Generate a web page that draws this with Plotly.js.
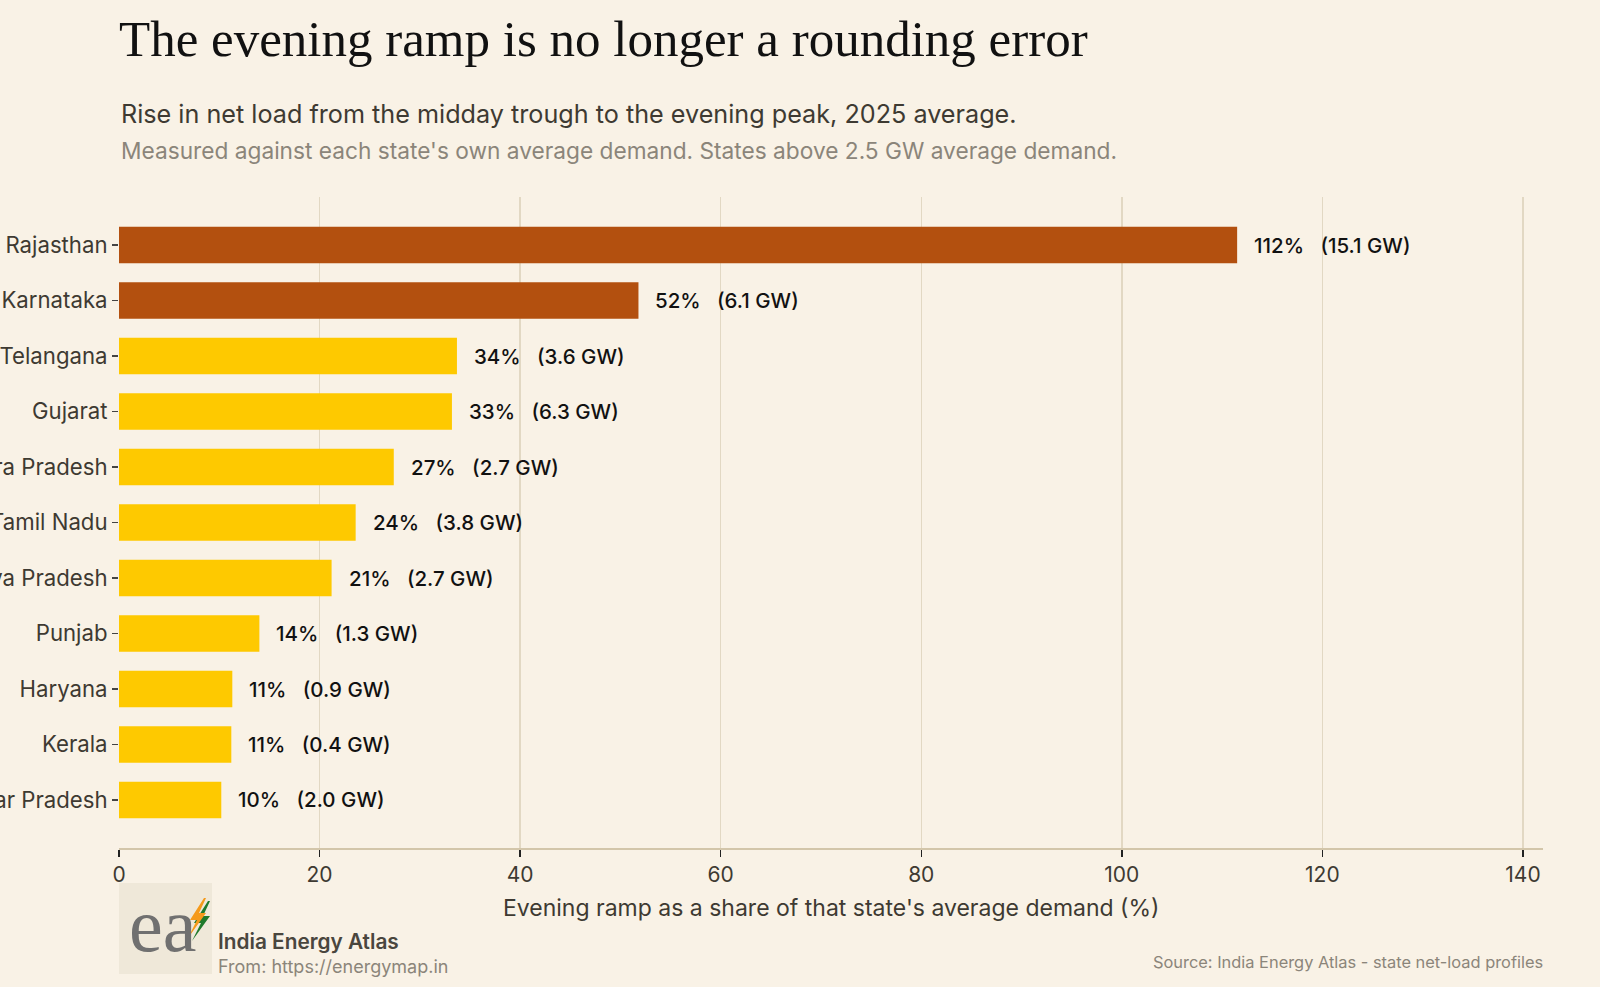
<!DOCTYPE html>
<html>
<head>
<meta charset="utf-8">
<script src="https://cdn.plot.ly/plotly-3.0.1.min.js"></script>
<style>
  html, body { margin: 0; padding: 0; background: #f9f2e6; }
  #chart { width: 1600px; height: 987px; }
</style>
</head>
<body>
<div id="chart"></div>
<script>
// state order, top to bottom
var states = ['Rajasthan', 'Karnataka', 'Telangana', 'Gujarat', 'Andhra Pradesh', 'Tamil Nadu',
              'Madhya Pradesh', 'Punjab', 'Haryana', 'Kerala', 'Uttar Pradesh'];
// evening ramp as % of state's average demand
var rampPct = [111.5, 51.8, 33.7, 33.2, 27.4, 23.6, 21.2, 14.0, 11.3, 11.2, 10.2];
// evening ramp in GW
var rampGW = [15.1, 6.1, 3.6, 6.3, 2.7, 3.8, 2.7, 1.3, 0.9, 0.4, 2.0];
var xTicks = [0, 20, 40, 60, 80, 100, 120, 140];

var DARK = '#b3500f', YELLOW = '#fec900';
var INK = '#3e3a32', GREY = '#8b857a';

// plot area in pixels: x 119..1543, y 197..848
function px(x) { return (x - 119) / 1424; }
function py(y) { return (848 - y) / 651; }

var barColors = rampPct.map(function (v) { return v >= 50 ? DARK : YELLOW; });

var trace = {
  type: 'bar',
  orientation: 'h',
  y: states,
  x: rampPct,
  marker: { color: barColors, line: { width: 0 } },
  hoverinfo: 'none'
};

var gap = '\u00a0\u00a0\u00a0';
var annotations = states.map(function (s, i) {
  return {
    x: rampPct[i], y: s, xref: 'x', yref: 'y',
    text: Math.round(rampPct[i]) + '%' + gap + '(' + rampGW[i].toFixed(1) + ' GW)',
    showarrow: false, xanchor: 'left', xshift: 15,
    font: { family: 'Inter', size: 20.5, color: '#111111', weight: 500 }
  };
});

annotations.push(
  { xref: 'paper', yref: 'paper', x: px(119), y: py(114), xanchor: 'left', yanchor: 'middle', showarrow: false,
    text: 'Rise in net load from the midday trough to the evening peak, 2025 average.',
    font: { family: 'Inter', size: 25.2, color: INK } },
  { xref: 'paper', yref: 'paper', x: px(119), y: py(151), xanchor: 'left', yanchor: 'middle', showarrow: false,
    text: "Measured against each state's own average demand. States above 2.5 GW average demand.",
    font: { family: 'Inter', size: 22.7, color: GREY } },
  { xref: 'paper', yref: 'paper', x: 0.5, y: py(908), xanchor: 'center', yanchor: 'middle', showarrow: false,
    text: "Evening ramp as a share of that state's average demand (%)",
    font: { family: 'Inter', size: 23, color: INK } },
  { xref: 'paper', yref: 'paper', x: px(216), y: py(941), xanchor: 'left', yanchor: 'middle', showarrow: false,
    text: 'India Energy Atlas',
    font: { family: 'Inter', size: 20.8, color: '#4a463e', weight: 600 } },
  { xref: 'paper', yref: 'paper', x: px(216), y: py(966), xanchor: 'left', yanchor: 'middle', showarrow: false,
    text: 'From: https://energymap.in',
    font: { family: 'Inter', size: 18, color: GREY } },
  { xref: 'paper', yref: 'paper', x: px(1545), y: py(962), xanchor: 'right', yanchor: 'middle', showarrow: false,
    text: 'Source: India Energy Atlas - state net-load profiles',
    font: { family: 'Inter', size: 16.4, color: GREY } },
  { xref: 'paper', yref: 'paper', x: px(162), y: py(925), xanchor: 'center', yanchor: 'middle', showarrow: false,
    text: 'ea',
    font: { family: 'Liberation Serif', size: 76, color: '#707070' } }
);

function pathFrom(pts) {
  return 'M ' + pts.map(function (p) { return px(p[0]) + ',' + py(p[1]); }).join(' L ') + ' Z';
}
var bolt = [[204, 898], [190, 920], [197, 920], [188, 938], [206, 913], [199, 913], [206, 898]];
var boltShadow = bolt.map(function (p) { return [p[0] + 4, p[1] + 3]; });

var shapes = [
  { type: 'rect', xref: 'paper', yref: 'paper', x0: px(119), x1: px(212), y0: py(974), y1: py(883),
    fillcolor: '#efe8d9', line: { width: 0 }, layer: 'below' },
  { type: 'path', xref: 'paper', yref: 'paper', path: pathFrom(boltShadow),
    fillcolor: '#1f7a2c', line: { width: 0 }, layer: 'above' },
  { type: 'path', xref: 'paper', yref: 'paper', path: pathFrom(bolt),
    fillcolor: '#f59a1b', line: { width: 0 }, layer: 'above' }
];

var layout = {
  width: 1600, height: 987,
  margin: { l: 119, r: 57, t: 197, b: 139, pad: 0 },
  paper_bgcolor: '#f9f2e6',
  plot_bgcolor: '#f9f2e6',
  showlegend: false,
  bargap: 0.34,
  title: {
    text: 'The evening ramp is no longer a rounding error',
    x: 119 / 1600, xanchor: 'left', xref: 'container',
    y: 1 - 38 / 987, yanchor: 'middle', yref: 'container',
    font: { family: 'Liberation Serif', size: 51, color: '#111111' }
  },
  xaxis: {
    range: [0, 142],
    tickvals: xTicks,
    ticktext: xTicks.map(String),
    showgrid: true, gridcolor: '#e2d8c3', gridwidth: 1.5,
    zeroline: false,
    showline: true, linecolor: '#d3c6aa', linewidth: 2,
    ticks: 'outside', ticklen: 7, tickcolor: '#222222', tickwidth: 1.5,
    tickfont: { family: 'Inter', size: 21, color: INK },
    fixedrange: true
  },
  yaxis: {
    type: 'category',
    categoryorder: 'array', categoryarray: states,
    range: [10.865, -0.865],
    showgrid: false, zeroline: false, showline: false,
    ticks: 'outside', ticklen: 6, tickcolor: '#444444', tickwidth: 1.5,
    tickfont: { family: 'Inter', size: 22.2, color: INK },
    automargin: false,
    fixedrange: true
  },
  annotations: annotations,
  shapes: shapes
};

Plotly.newPlot('chart', [trace], layout, { displayModeBar: false, staticPlot: true });
</script>
</body>
</html>
